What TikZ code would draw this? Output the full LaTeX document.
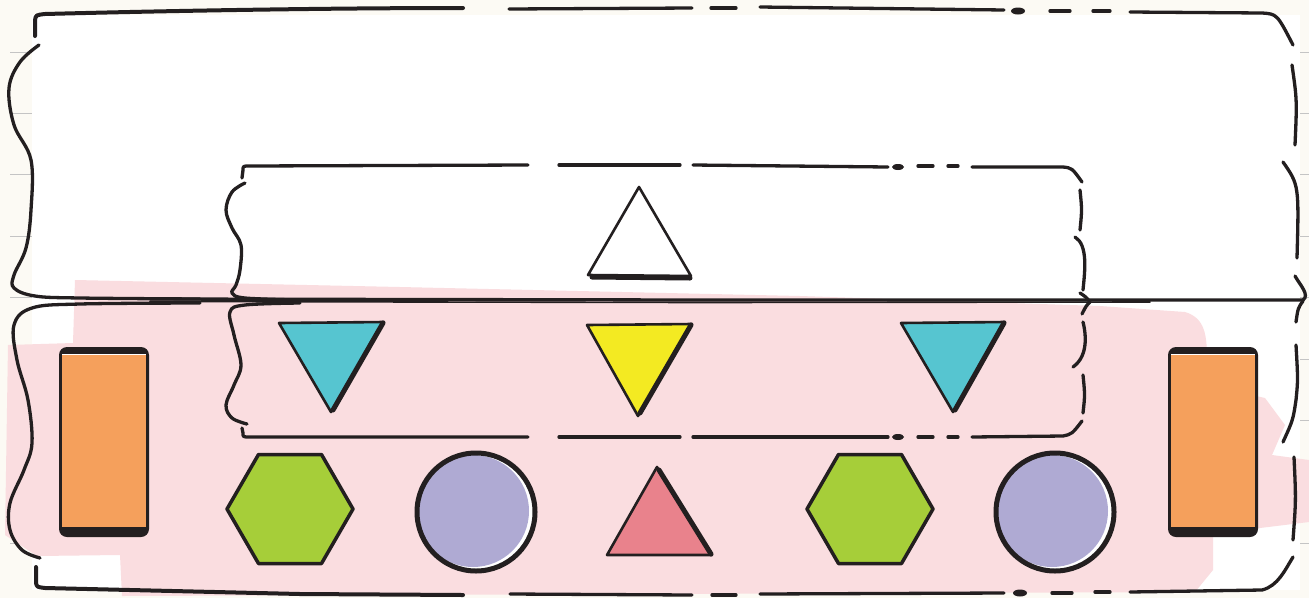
\documentclass[tikz,border=0pt]{standalone}
\definecolor{paper}{HTML}{FCFAF4}
\definecolor{inkc}{HTML}{231F20}
\definecolor{hl}{HTML}{FADDE0}
\definecolor{rulec}{HTML}{C4C4C4}
\definecolor{cyanf}{HTML}{56C5D0}
\definecolor{yel}{HTML}{F3EA22}
\definecolor{org}{HTML}{F5A05C}
\definecolor{grn}{HTML}{A6CE39}
\definecolor{lav}{HTML}{AFAAD3}
\definecolor{rose}{HTML}{E9828C}
\begin{document}
\begin{tikzpicture}[x=1pt,y=-1pt,
  ink/.style={draw=inkc,line width=3.3pt,line cap=round,line join=round},
  thin ink/.style={draw=inkc,line width=1.6pt,line cap=round,line join=round},
  shapeline/.style={draw=inkc,line width=2.6pt,line join=round,line cap=round},
  heavy/.style={draw=inkc,line width=5pt,line cap=round},
  inkdot/.style={fill=inkc}]
\useasboundingbox (0,0) rectangle (1309,598);
% paper
\fill[paper] (0,0) rectangle (1309,598);
\foreach \yy in {52,113.4,174.8,236.2,297.6,359,420.4,481.8,543.2}{
  \draw[rulec,line width=1pt] (10,\yy) -- (32,\yy);
  \draw[rulec,line width=1pt] (1300,\yy) -- (1309,\yy);
}
\fill[white] (32,15) rectangle (1300,590);
% highlight
\fill[hl] (75,280) -- (400,287) -- (800,296) -- (1100,306) -- (1185,312)
  .. controls (1205,318) and (1207,335) .. (1207,360) -- (1207,385)
  -- (1265,398) -- (1285,425) -- (1272,455) -- (1309,460) -- (1309,522)
  -- (1260,528) -- (1213,530) -- (1213,570) -- (1195,592) -- (122,596)
  -- (120,555) -- (37,556) -- (5,535) -- (8,345) -- (73,343) -- cycle;

% ---------- outer top box ----------
\draw[ink,line width=4pt] (35,36) -- (35,20) .. controls (36,15) .. (45,14) .. controls (200,10) and (350,8) .. (463,8);
\draw[ink] (509,9) -- (692,8);
\draw[ink] (711,8) -- (736,8);
\draw[ink] (760,7) -- (1004,10);
\fill[inkdot] (1018,11) ellipse [x radius=7pt,y radius=3.5pt];
\draw[ink] (1050,11) -- (1070,11);
\draw[ink] (1093,11) -- (1110,11);
\draw[ink] (1130,12) -- (1262,13) .. controls (1277,14) .. (1293,45);
\draw[ink] (1292,65) .. controls (1297,100) .. (1295,145);
\draw[ink] (1283,162) .. controls (1299,185) .. (1297,258);
\draw[ink] (1295,276) .. controls (1300,285) and (1310,295) .. (1303,300);
\draw[ink] plot[smooth,tension=0.6] coordinates {(39,45) (20,62) (9,88) (14,125) (31,160) (31,210) (26,248) (14,275) (14,288) (35,296) (80,298) (200,299)};
\draw[ink] (150,299) -- (700,300) -- (1303,300);
\draw[thin ink] (150,301.5) -- (700,302.5) -- (1150,302);

% ---------- outer bottom box ----------
\draw[ink] (1303,301) .. controls (1298,308) .. (1296,322);
\draw[ink] (1296,345) .. controls (1298,380) .. (1296,400) .. controls (1293,420) .. (1283,442);
\draw[ink] (1294,457) .. controls (1296,500) .. (1293,540);
\draw[ink] (1293,557) .. controls (1285,570) and (1278,586) .. (1262,590) -- (1130,592);
\draw[ink] (1110,592) -- (1095,592);
\draw[ink] (1072,593) -- (1052,593);
\fill[inkdot] (1020,593) ellipse [x radius=7pt,y radius=3.5pt];
\draw[ink] (1004,593) -- (760,594);
\draw[ink] (736,595) -- (712,595);
\draw[ink] (692,595) -- (510,594);
\draw[ink,line width=4pt] (36,567) -- (36,583) .. controls (37,587) .. (45,588) -- (300,594) -- (463,595);
\draw[ink] plot[smooth,tension=0.6] coordinates {(200,303) (80,304) (32,308) (14,325) (17,360) (28,400) (32,443) (24,470) (10,503) (10,530) (22,550) (40,558)};

% ---------- inner top box ----------
\draw[ink] (242,178) -- (243,170) .. controls (243,166) .. (250,166) -- (528,165);
\draw[ink] (559,165) -- (680,165);
\draw[ink] (693,165) -- (888,167);
\fill[inkdot] (898,167) ellipse [x radius=6pt,y radius=3pt];
\draw[ink] (918,166) -- (933,166);
\draw[ink] (948,166) -- (958,166);
\draw[ink] (972,167) -- (1063,167) .. controls (1072,168) .. (1082,182);
\draw[ink] (1080,190) .. controls (1082,210) .. (1080,230);
\draw[ink] (1075,237) .. controls (1088,245) and (1085,270) .. (1083,290);
\draw[ink] (1080,293) .. controls (1086,297) .. (1090,302) .. controls (1086,306) .. (1082,314);
\draw[ink] plot[smooth,tension=0.6] coordinates {(245,183) (232,192) (226,210) (232,228) (241,245) (240,270) (236,285) (232,293) (245,298) (300,300)};

% ---------- inner bottom box ----------
\draw[ink] plot[smooth,tension=0.6] coordinates {(300,303) (245,305) (230,312) (234,335) (241,365) (234,385) (226,405) (232,418) (247,424)};
\draw[ink] (242,428) -- (243,433) .. controls (243,437) .. (250,437) -- (528,437);
\draw[ink] (559,437) -- (680,437);
\draw[ink] (693,437) -- (888,437);
\fill[inkdot] (898,437) ellipse [x radius=6pt,y radius=3pt];
\draw[ink] (918,437) -- (933,437);
\draw[ink] (948,437) -- (958,437);
\draw[ink] (972,437) -- (1063,436) .. controls (1072,434) .. (1082,421);
\draw[ink] (1083,413) .. controls (1085,395) .. (1083,375);
\draw[ink] (1073,367) .. controls (1090,355) and (1085,330) .. (1083,322);

% ---------- shapes ----------
% white triangle
\filldraw[shapeline,fill=white] (639,187) -- (691,276) -- (588,275) -- cycle;
\draw[heavy] (592,277) -- (690,278);
% cyan triangles
\filldraw[shapeline,fill=cyanf] (279,323) -- (384,322) -- (331,412) -- cycle;
\draw[heavy] (383,323) -- (333,410);
\filldraw[shapeline,fill=yel] (587,325) -- (692,324) -- (638,416) -- cycle;
\draw[heavy] (691,325) -- (640,413);
\filldraw[shapeline,fill=cyanf] (901,323) -- (1005,322) -- (953,412) -- cycle;
\draw[heavy] (1004,323) -- (955,410);
% orange rectangles
\fill[inkc,rounded corners=8pt] (59,347) rectangle (149,537);
\fill[org] (62,354) rectangle (146,527);
\draw[white,line width=1pt] (62,354) -- (146,354);
\fill[inkc,rounded corners=8pt] (1168,347) rectangle (1258,537);
\fill[org] (1171,354) rectangle (1255,527);
\draw[white,line width=1pt] (1171,354) -- (1255,354);
% hexagons
\filldraw[shapeline,line width=3.5pt,fill=grn] (353,509) -- (321.5,454.5) -- (258.5,454.5) -- (227,509) -- (258.5,563.5) -- (321.5,563.5) -- cycle;
\filldraw[shapeline,line width=3.5pt,fill=grn] (933,509) -- (901.5,454.5) -- (838.5,454.5) -- (807,509) -- (838.5,563.5) -- (901.5,563.5) -- cycle;
% circles
\fill[white] (476,512) circle [radius=58pt];
\fill[lav] (473,511) circle [radius=56pt];
\draw[inkc,line width=5pt] (476,512) circle [radius=59pt];
\fill[white] (1055,512) circle [radius=58pt];
\fill[lav] (1052,511) circle [radius=56pt];
\draw[inkc,line width=5pt] (1055,512) circle [radius=59pt];
% rose triangle
\filldraw[shapeline,fill=rose] (657,467) -- (712,555) -- (607,555) -- cycle;
\draw[heavy] (659,470) -- (711,554);
\end{tikzpicture}
\end{document}
